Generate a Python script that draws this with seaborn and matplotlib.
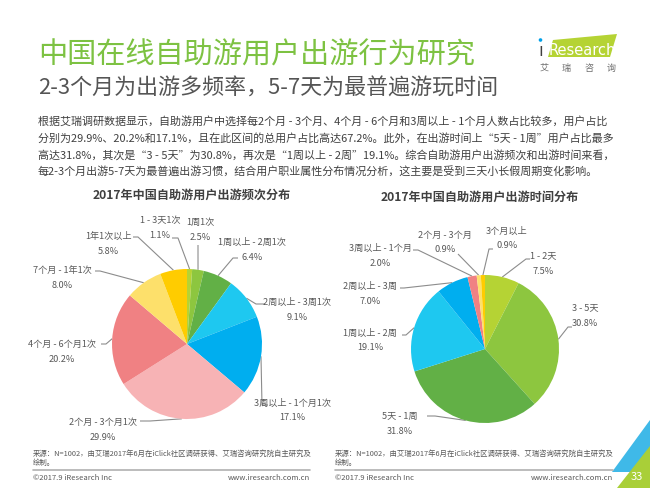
import numpy as np
import matplotlib.pyplot as plt
import seaborn as sns
from matplotlib.patches import Polygon, Circle

sns.set_theme(style="white")
plt.rcParams['font.family'] = ['Noto Sans CJK SC', 'DejaVu Sans']

# ---- data ----
freq_labels = ['1 - 3天1次', '1周1次', '1周以上 - 2周1次', '2周以上 - 3周1次',
               '3周以上 - 1个月1次', '2个月 - 3个月1次', '4个月 - 6个月1次',
               '7个月 - 1年1次', '1年1次以上']
freq_values = [1.1, 2.5, 6.4, 9.1, 17.1, 29.9, 20.2, 8.0, 5.8]

time_labels = ['1 - 2天', '3 - 5天', '5天 - 1周', '1周以上 - 2周', '2周以上 - 3周',
               '3周以上 - 1个月', '2个月 - 3个月', '3个月以上']
time_values = [7.5, 30.8, 31.8, 19.1, 7.0, 2.0, 0.9, 0.9]

freq_colors = sns.color_palette(['#b5d334', '#8dc63f', '#62b046', '#1ec8f0', '#00aeef',
                                 '#f7b3b5', '#f08183', '#fde06b', '#ffcc00'])
time_colors = sns.color_palette(['#b5d334', '#8dc63f', '#62b046', '#1ec8f0', '#00aeef',
                                 '#f08183', '#fde06b', '#ffcc00'])

title = '中国在线自助游用户出游行为研究'
subtitle = '2-3个月为出游多频率，5-7天为最普遍游玩时间'
paragraph = [
    '根据艾瑞调研数据显示，自助游用户中选择每2个月 - 3个月、4个月 - 6个月和3周以上 - 1个月人数占比较多，用户占比',
    '分别为29.9%、20.2%和17.1%，且在此区间的总用户占比高达67.2%。此外，在出游时间上“5天 - 1周”用户占比最多',
    '高达31.8%，其次是“3 - 5天”为30.8%，再次是“1周以上 - 2周”19.1%。综合自助游用户出游频次和出游时间来看，',
    '每2-3个月出游5-7天为最普遍出游习惯，结合用户职业属性分布情况分析，这主要是受到三天小长假周期变化影响。',
]
source = ['来源：N=1002，由艾瑞2017年6月在iClick社区调研获得、艾瑞咨询研究院自主研究及', '绘制。']

# ---- layout (pixel coords, y down) ----
W, H = 650, 488
freq_pie = dict(cx=187, cy=344, r=75)
time_pie = dict(cx=485, cy=349, r=74)

# label name position, then leader points from text side towards slice
freq_layout = [
    ((160, 221), [(172, 238), (178, 238)]),
    ((200, 222), [(198, 245)]),
    ((252, 242), [(238, 258), (233, 258)]),
    ((297, 302), [(265, 304), (256, 304)]),
    ((292, 403), [(268, 405), (262, 405)]),
    ((103, 422), [(140, 421), (150, 421)]),
    ((62, 344), [(101, 344), (106, 344)]),
    ((62, 270), [(95, 271), (100, 271)]),
    ((108, 236), [(133, 237), (138, 237)]),
]
time_layout = [
    ((543, 256), [(530, 259), (526, 259)]),
    ((585, 308), [(572, 327), (568, 327)]),
    ((400, 416), [(427, 416), (435, 416)]),
    ((370, 333), [(402, 335), (406, 335)]),
    ((370, 286), [(400, 288), (404, 288)]),
    ((380, 248), [(413, 250), (418, 250)]),
    ((445, 235), [(458, 254)]),
    ((507, 231), [(493, 249), (489, 249)]),
]

label_color = '#595959'
line_color = '#8c8c8c'

fig = plt.figure(figsize=(W / 100, H / 100), dpi=100)
bg = fig.add_axes([0, 0, 1, 1])
bg.set_xlim(0, W)
bg.set_ylim(H, 0)
bg.axis('off')

# header
bg.text(38, 55, title, fontsize=21, color='#7dc242', va='center', ha='left')
bg.text(38, 89, subtitle, fontsize=15.8, color='#555555', va='center', ha='left')
for i, line in enumerate(paragraph):
    bg.text(38, 121 + i * 17, line, fontsize=7.95, color='#404040', va='center', ha='left')

# logo
bg.add_patch(Polygon([(553, 40), (617, 34), (610, 57), (548, 57)], closed=True,
                     facecolor='#b5d334', edgecolor='none'))
bg.add_patch(Circle((540.5, 40), 1.8, facecolor='#00a0e9', edgecolor='none'))
bg.text(538.5, 56, 'ı', fontsize=12, color='#404040', va='baseline', ha='left',
        family='DejaVu Sans')
bg.text(549, 55, 'Research', fontsize=10.5, color='white', va='baseline', ha='left',
        family='DejaVu Sans')
for i, ch in enumerate('艾瑞咨询'):
    bg.text(544 + i * 22.5, 68, ch, fontsize=6.5, color='#6d6d6d', va='center', ha='center')

# chart titles
bg.text(192, 195, '2017年中国自助游用户出游频次分布', fontsize=8.7, fontweight='bold',
        color='#404040', ha='center', va='center')
bg.text(480, 197, '2017年中国自助游用户出游时间分布', fontsize=8.7, fontweight='bold',
        color='#404040', ha='center', va='center')


def draw_pie(spec, values, labels, colors, layout):
    cx, cy, r = spec['cx'], spec['cy'], spec['r']
    ax = fig.add_axes([(cx - r) / W, (H - cy - r) / H, 2 * r / W, 2 * r / H])
    wedges, _ = ax.pie(values, colors=colors, startangle=90, counterclock=False,
                       radius=1, wedgeprops=dict(linewidth=0))
    ax.set_xlim(-1, 1)
    ax.set_ylim(-1, 1)
    ax.axis('off')
    for w, lab, v, ((tx, ty), pts) in zip(wedges, labels, values, layout):
        mid = np.deg2rad((w.theta1 + w.theta2) / 2)
        anchor = (cx + r * np.cos(mid), cy - r * np.sin(mid))
        path = pts + [anchor]
        xs = [p[0] for p in path]
        ys = [p[1] for p in path]
        bg.plot(xs, ys, color=line_color, lw=0.8, solid_capstyle='butt')
        bg.text(tx, ty, lab, fontsize=6.6, color=label_color, ha='center', va='center')
        bg.text(tx, ty + 15, f'{v:.1f}%', fontsize=6.6, color=label_color,
                ha='center', va='center')


draw_pie(freq_pie, freq_values, freq_labels, freq_colors, freq_layout)
draw_pie(time_pie, time_values, time_labels, time_colors, time_layout)

# footer
for x0, x1 in [(33, 310), (335, 613)]:
    bg.text(x0, 454, source[0], fontsize=5.3, color='#595959', ha='left', va='center')
    bg.text(x0, 463, source[1], fontsize=5.3, color='#595959', ha='left', va='center')
    bg.plot([x0, x1], [469.5, 469.5], color='#b0b0b0', lw=1.2)
    bg.text(x0, 478, '©2017.9 iResearch Inc', fontsize=5.5, color='#595959',
            ha='left', va='center')
    bg.text(x1, 478, 'www.iresearch.com.cn', fontsize=5.5, color='#595959',
            ha='right', va='center')

# page corner
bg.add_patch(Polygon([(612, 472), (650, 420), (650, 472)], closed=True,
                     facecolor='#3fb9e8', edgecolor='none'))
bg.add_patch(Polygon([(617, 488), (650, 446), (650, 488)], closed=True,
                     facecolor='#a9cf38', edgecolor='none'))
bg.text(637, 477, '33', fontsize=8, color='white', ha='center', va='center')

fig.savefig('out.png', dpi=100)
